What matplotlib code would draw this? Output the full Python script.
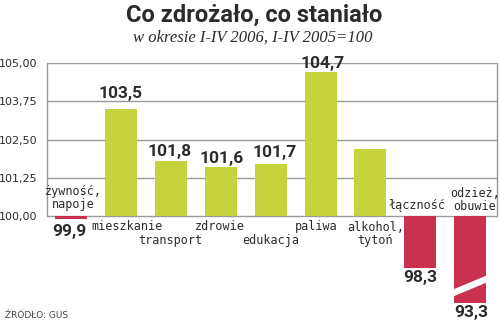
import matplotlib
matplotlib.use("Agg")
import matplotlib.pyplot as plt
import numpy as np

# data (index I-IV 2006, I-IV 2005 = 100)
categories = ["żywność,\nnapoje", "mieszkanie", "transport", "zdrowie", "edukacja",
              "paliwa", "alkohol,\ntytoń", "łączność", "odzież,\nobuwie"]
values = [99.9, 103.5, 101.8, 101.6, 101.7, 104.7, 102.2, 98.3, 93.3]
value_labels = ["99,9", "103,5", "101,8", "101,6", "101,7", "104,7", "", "98,3", "93,3"]
yticks = [100.0, 101.25, 102.5, 103.75, 105.0]
ytick_labels = ["100,00", "101,25", "102,50", "103,75", "105,00"]

GREEN = "#c5d43c"
RED = "#c9314f"
GRID = "#9a9a9a"
TXT = "#2b2b2b"
BASE = 100.0
BREAK_FLOOR = 97.15   # bars below this are drawn broken

# label placement in pixels relative to base line (category) / bar end (value)
cat_off = [(2, 18), (6, -11), (-1, -25), (-1, -11), (0, -25),
           (-4, -11), (5, -18), (-3, 10), (5, 16)]
val_off = [(-2, -17), (-1, 11), (-1, 5), (1, 4), (4, 7), (2, 4), (0, 0), (0, -14), (1, -14)]

fig = plt.figure(figsize=(5.0, 3.23), dpi=100)
ax = fig.add_axes([0.094, 0.0288, 0.90, 0.7752])
ax.set_xlim(-0.49, 8.54)
ax.set_ylim(96.8, 105.0)

x = np.arange(len(values))
shown = [max(v, BREAK_FLOOR) for v in values]
heights = [s - BASE for s in shown]
colors = [GREEN if v >= BASE else RED for v in values]
ax.bar(x, heights, bottom=BASE, width=0.645, color=colors, zorder=3)

# break mark on the truncated bar
for i, v in enumerate(values):
    if v < BREAK_FLOOR:
        w = 0.36
        f = BREAK_FLOOR
        poly = plt.Polygon([(i - w, f + 0.20), (i + w, f + 0.69),
                            (i + w, f + 0.92), (i - w, f + 0.43)],
                           closed=True, facecolor="white", edgecolor="none", zorder=4)
        ax.add_patch(poly)

for t in yticks:
    ax.axhline(t, color=GRID, lw=1.0, zorder=1)

for s in ["top", "bottom"]:
    ax.spines[s].set_visible(False)
for s in ["left", "right"]:
    ax.spines[s].set_bounds(BASE, 105.0)
    ax.spines[s].set_color(GRID)
    ax.spines[s].set_linewidth(1.0)

ax.set_xticks([])
ax.set_yticks(yticks, ytick_labels)
ax.tick_params(axis="y", length=0, pad=7, labelsize=8, labelcolor=TXT)

for i, c in enumerate(categories):
    ax.annotate(c, xy=(i, BASE), xytext=cat_off[i], textcoords="offset pixels",
                ha="center", va="center", fontsize=8.5, family="DejaVu Sans Mono",
                color=TXT, linespacing=1.05, zorder=5, annotation_clip=False)

for i, lab in enumerate(value_labels):
    if not lab:
        continue
    ax.annotate(lab, xy=(i, shown[i]), xytext=val_off[i], textcoords="offset pixels",
                ha="center", va="baseline",
                fontsize=12.5, family="Roboto", fontweight="bold", color=TXT,
                zorder=5, annotation_clip=False)

fig.text(0.508, 1 - 15 / 323, "Co zdrożało, co staniało", ha="center", va="center",
         fontsize=17, family="Roboto", fontweight="bold", color=TXT)
fig.text(0.505, 1 - 38 / 323, "w okresie I-IV 2006, I-IV 2005=100", ha="center",
         va="center", fontsize=12, family="Liberation Serif", style="italic", color=TXT)
fig.text(0.01, 1 - 315 / 323, "ŹRÓDŁO: GUS", ha="left", va="center",
         fontsize=6.5, family="DejaVu Sans", color="#444444")

fig.savefig("out.png", dpi=100)
